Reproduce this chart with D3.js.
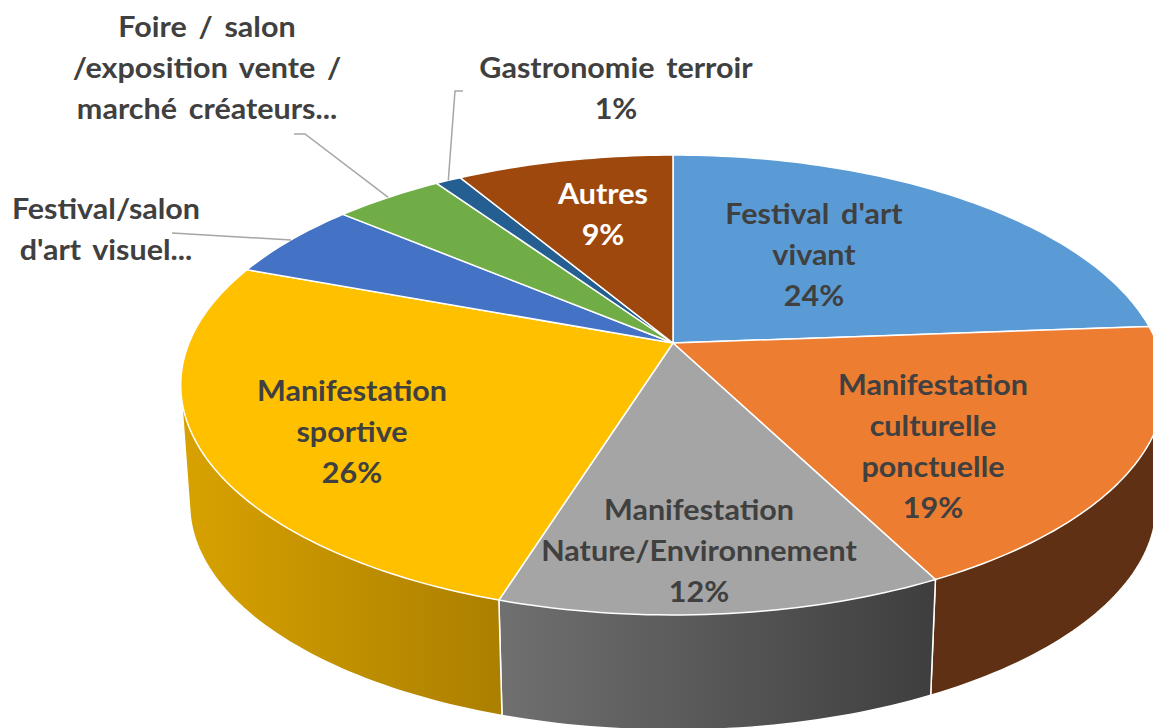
<!DOCTYPE html>
<html>
<head>
<meta charset="utf-8">
<script src="https://cdn.jsdelivr.net/npm/d3@7/dist/d3.min.js"></script>
<style>
  html, body { margin: 0; background: #fff; overflow: hidden; }
  text { font-family: Lato, "Open Sans", sans-serif; font-weight: 700; font-size: 28px; fill: #404040; text-anchor: middle; word-spacing: 4px; }
</style>
</head>
<body>
<div id="chart"></div>
<script>
const categories = [
  "Festival d'art vivant",
  'Manifestation culturelle ponctuelle',
  'Manifestation Nature/Environnement',
  'Manifestation sportive',
  "Festival/salon d'art visuel...",
  'Foire / salon /exposition vente / marché créateurs...',
  'Gastronomie terroir',
  'Autres',
];
// shown as rounded percentages, slightly finer here to follow the slice edges
const shares = [23.8, 18.7, 12.3, 25.9, 5.5, 4.3, 1.0, 8.5];
const topColors = ['#5b9bd5', '#ed7d31', '#a5a5a5', '#ffc000', '#4472c4', '#70ad47', '#255e91', '#9e480e'];
const wallColors = [
  ['#3a6a96', '#3a6a96'],
  ['#5f3013', '#5f3013'],
  ['#707070', '#3e3e3e'],
  ['#d8a200', '#ab7f00'],
  ['#2f4f88', '#2f4f88'],
  ['#4d7731', '#4d7731'],
  ['#1a4166', '#1a4166'],
  ['#6e320a', '#6e320a'],
];
const labelLines = [
  ["Festival d'art", 'vivant'],
  ['Manifestation', 'culturelle', 'ponctuelle'],
  ['Manifestation', 'Nature/Environnement'],
  ['Manifestation', 'sportive'],
  ['Festival/salon', "d'art visuel..."],
  ['Foire / salon', '/exposition vente /', 'marché créateurs...'],
  ['Gastronomie terroir'],
  ['Autres'],
];
const showPercent = [true, true, true, true, false, false, true, true];

// where each label block sits: centre x, baseline of first line
const labelPlace = [
  [814, 224], [933, 395], [699, 520], [352, 401],
  [106, 219], [207, 37], [616, 78], [603, 204],
];
// elbow of the leader lines, outside labels only
const leaderElbows = {
  4: [[172, 233]],
  5: [[294, 134], [305, 134]],
  6: [[463, 91], [455, 91]],
};

const width = 1153;
const height = 728;
const lineStep = 41;
const textStretch = 1.09; // the source text is a bit wider than Lato

// tilted disc: circle seen in perspective, apex is not the ellipse centre
const view = { cx: 673, cy: 343, a: 484, b: 222.3, k: 0.1826, depth: 120, shrink: 0.982 };

const project = (angle, r = 1) => {
  const x = r * Math.sin(angle);
  const y = -r * Math.cos(angle);
  const w = 1 - view.k * y;
  return [view.cx + view.a * x / w, view.cy + view.b * y / w];
};
const projectBottom = (angle) => {
  const [x, y] = project(angle);
  return [view.cx + (x - view.cx) * view.shrink, view.cy + (y - view.cy) * view.shrink + view.depth];
};
const arcAngles = (a0, a1) => {
  const n = Math.max(2, Math.ceil((a1 - a0) / 0.02));
  return d3.range(n + 1).map(i => a0 + (a1 - a0) * i / n);
};

const slices = d3.pie().sort(null).value(d => d)(shares);
const line = d3.line();

const svg = d3.select('#chart')
  .append('svg')
  .attr('width', width)
  .attr('height', height);

const defs = svg.append('defs');

// side walls, only the half that faces the viewer
const front = [Math.PI / 2 - 0.3, Math.PI * 1.5 + 0.4];
const walls = slices
  .map((d, i) => ({ i, a0: Math.max(d.startAngle, front[0]), a1: Math.min(d.endAngle, front[1]) }))
  .filter(d => d.a1 > d.a0);

walls.forEach(d => {
  const angles = arcAngles(d.a0, d.a1);
  const pts = angles.map(a => project(a)).concat(angles.map(a => projectBottom(a)));
  d.hull = d3.polygonHull(pts);
  const xs = d3.extent(d.hull, p => p[0]);
  const grad = defs.append('linearGradient')
    .attr('id', `wall-${d.i}`)
    .attr('gradientUnits', 'userSpaceOnUse')
    .attr('x1', xs[0]).attr('x2', xs[1])
    .attr('y1', 0).attr('y2', 0);
  grad.append('stop').attr('offset', 0).attr('stop-color', wallColors[d.i][0]);
  grad.append('stop').attr('offset', 1).attr('stop-color', wallColors[d.i][1]);
});

svg.append('g')
  .selectAll('path')
  .data(walls)
  .join('path')
  .attr('d', d => line(d.hull) + 'Z')
  .attr('fill', d => `url(#wall-${d.i})`)
  .attr('stroke', '#fff')
  .attr('stroke-width', 1.5)
  .attr('stroke-linejoin', 'round');

// top face
svg.append('g')
  .selectAll('path')
  .data(slices)
  .join('path')
  .attr('d', d => line([[view.cx, view.cy], ...arcAngles(d.startAngle, d.endAngle).map(a => project(a))]) + 'Z')
  .attr('fill', (d, i) => topColors[i])
  .attr('stroke', '#fff')
  .attr('stroke-width', 1.5)
  .attr('stroke-linejoin', 'round');

// leader lines
svg.append('g')
  .selectAll('path')
  .data(Object.keys(leaderElbows).map(Number))
  .join('path')
  .attr('d', i => {
    const mid = (slices[i].startAngle + slices[i].endAngle) / 2;
    return line([...leaderElbows[i], project(mid)]);
  })
  .attr('fill', 'none')
  .attr('stroke', '#a6a6a6')
  .attr('stroke-width', 1.5);

// labels
const labels = svg.append('g')
  .selectAll('text')
  .data(categories)
  .join('text')
  .attr('transform', (d, i) => `translate(${labelPlace[i][0]},${labelPlace[i][1]}) scale(${textStretch},1)`)
  .style('fill', (d, i) => (i === 7 ? '#fff' : '#404040'));

labels.each(function (d, i) {
  const rows = labelLines[i].slice();
  if (showPercent[i]) rows.push(`${Math.round(shares[i])}%`);
  d3.select(this)
    .selectAll('tspan')
    .data(rows)
    .join('tspan')
    .attr('x', 0)
    .attr('y', (r, j) => j * lineStep)
    .text(r => r);
});
</script>
</body>
</html>
